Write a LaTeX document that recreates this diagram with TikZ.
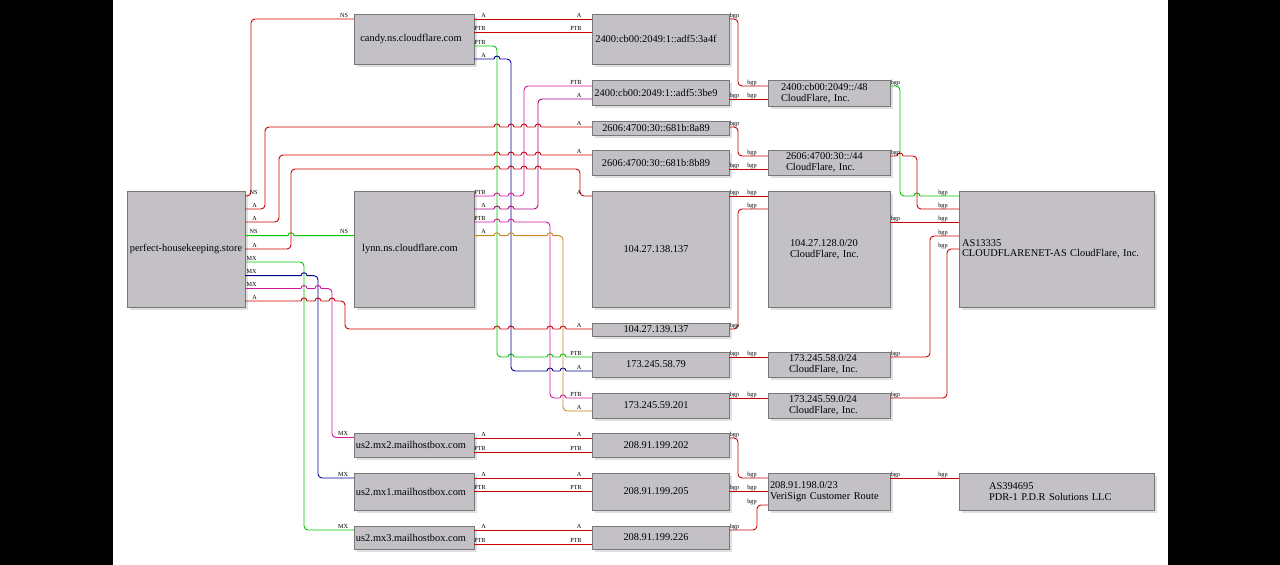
\documentclass[tikz,border=0pt]{standalone}
\usepackage{fontspec}
\setmainfont{Liberation Serif}
\usetikzlibrary{shadows}
\definecolor{boxgray}{RGB}{195,193,197}
\definecolor{bordergray}{RGB}{120,120,120}
\definecolor{shadowgray}{RGB}{224,224,224}
\definecolor{ered}{RGB}{204,0,0}
\definecolor{egreen}{RGB}{0,200,0}
\definecolor{enavy}{RGB}{0,0,140}
\definecolor{emagA}{RGB}{212,22,158}
\definecolor{emagB}{RGB}{168,0,127}
\definecolor{eorange}{RGB}{200,138,32}
\newcommand\hopx[2]{-- (#1-3,#2) (#1-3,#2) arc[start angle=180,end angle=0,radius=3bp] (#1+3,#2)}
\tikzset{
  box/.style={draw=bordergray, fill=boxgray, line width=0.8bp, inner sep=0pt, outer sep=0pt,
    font=\fontsize{10.4bp}{10.7bp}\selectfont,
    drop shadow={shadow xshift=3bp, shadow yshift=-3bp, fill=shadowgray, opacity=1}},
  tk/.style={execute at end node={\kern#1}},
  ipbox/.style={box, minimum width=137bp, tk=9bp},
  nmbox/.style={box, minimum width=120bp},
  pfx/.style args={#1/#2}{box, inner xsep=#2, text width=#1-2*#2, align=left},
  e/.style={draw=#1, line width=0.9bp, rounded corners=4bp},
  lab/.style={font=\fontsize{6.2bp}{7bp}\selectfont, inner sep=0pt, anchor=base, text=black, yshift=1.8bp},
  tA/.style={lab, xshift=9.5bp}, tPTR/.style={lab, xshift=6bp}, tNS/.style={lab, xshift=8.5bp},
  tMX/.style={lab, xshift=6.5bp}, tbgp/.style={lab, xshift=5.5bp},
  hA/.style={lab, xshift=-13bp}, hPTR/.style={lab, xshift=-16bp}, hNS/.style={lab, xshift=-10bp},
  hMX/.style={lab, xshift=-11bp}, hbgp/.style={lab, xshift=-16bp}
}
\begin{document}
\begin{tikzpicture}[x=1bp, y=-1bp]
\useasboundingbox (0,0) rectangle (1280,565);
\fill[black] (0,0) rectangle (1280,565);
\fill[white] (113,0) rectangle (1168,565);

% name nodes
\node[box, minimum width=118bp, minimum height=116bp] (P) at (186,249) {perfect-housekeeping.store};
\node[nmbox, minimum height=50bp, tk=6bp] (C) at (414,39) {candy.ns.cloudflare.com};
\node[nmbox, minimum height=116bp, tk=8bp] (L) at (414,249) {lynn.ns.cloudflare.com};
\node[nmbox, minimum height=24bp, tk=6bp] (M2) at (414,445) {us2.mx2.mailhostbox.com};
\node[nmbox, minimum height=37bp, tk=6bp] (M1) at (414,491.5) {us2.mx1.mailhostbox.com};
\node[nmbox, minimum height=23bp, tk=6bp] (M3) at (414,537.5) {us2.mx3.mailhostbox.com};

% address nodes
\node[ipbox, minimum height=50bp] (I1) at (660.5,39) {2400:cb00:2049:1::adf5:3a4f};
\node[ipbox, minimum height=25bp] (I2) at (660.5,92.5) {2400:cb00:2049:1::adf5:3be9};
\node[ipbox, minimum height=14bp] (I3) at (660.5,128) {2606:4700:30::681b:8a89};
\node[ipbox, minimum height=25bp] (I4) at (660.5,162.5) {2606:4700:30::681b:8b89};
\node[ipbox, minimum height=116bp] (I5) at (660.5,249) {104.27.138.137};
\node[ipbox, minimum height=13bp] (I6) at (660.5,329.5) {104.27.139.137};
\node[ipbox, minimum height=25bp] (I7) at (660.5,364.5) {173.245.58.79};
\node[ipbox, minimum height=25bp] (I8) at (660.5,405.5) {173.245.59.201};
\node[ipbox, minimum height=24bp] (I9) at (660.5,445) {208.91.199.202};
\node[ipbox, minimum height=37bp] (I10) at (660.5,491.5) {208.91.199.205};
\node[ipbox, minimum height=23bp] (I11) at (660.5,537.5) {208.91.199.226};

% prefix nodes
\node[pfx=122bp/13bp, minimum height=26bp] (N48) at (829,93) {2400:cb00:2049::/48\\CloudFlare, Inc.};
\node[pfx=122bp/18bp, minimum height=25bp] (N44) at (829,162.5) {2606:4700:30::/44\\CloudFlare, Inc.};
\node[pfx=122bp/22bp, minimum height=116bp] (N20) at (829,249) {104.27.128.0/20\\CloudFlare, Inc.};
\node[pfx=122bp/21bp, minimum height=25bp] (N58) at (829,364.5) {173.245.58.0/24\\CloudFlare, Inc.};
\node[pfx=122bp/21bp, minimum height=25bp] (N59) at (829,405.5) {173.245.59.0/24\\CloudFlare, Inc.};
\node[pfx=122bp/2bp, minimum height=37bp] (N23) at (829,491.5) {208.91.198.0/23\\VeriSign Customer Route};

% AS nodes
\node[pfx=195bp/3bp, minimum height=116bp] (A1) at (1056.5,249) {AS13335\\CLOUDFLARENET-AS CloudFlare, Inc.};
\node[pfx=195bp/30bp, minimum height=37bp] (A2) at (1056.5,491.5) {AS394695\\PDR-1 P.D.R Solutions LLC};

% edges from perfect-housekeeping.store
\draw[e=ered] (P.east|-0,196) node[tNS]{NS} -- (251,196) -- (251,19) -- (C.west|-0,19) node[hNS]{NS};
\draw[e=ered] (P.east|-0,209) node[tA]{A} -- (265,209) -- (265,127) \hopx{497}{127}\hopx{511}{127}\hopx{524}{127}\hopx{538}{127} -- (I3.west|-0,127) node[hA]{A};
\draw[e=ered] (P.east|-0,222) node[tA]{A} -- (279,222) -- (279,155) \hopx{497}{155}\hopx{511}{155}\hopx{524}{155}\hopx{538}{155} -- (I4.west|-0,155) node[hA]{A};
\draw[e=egreen] (P.east|-0,235.7) node[tNS]{NS} \hopx{291}{235.7} -- (L.west|-0,235.7) node[hNS]{NS};
\draw[e=ered] (P.east|-0,249) node[tA]{A} -- (291,249) -- (291,169) \hopx{497}{169}\hopx{511}{169}\hopx{524}{169}\hopx{538}{169} -- (580,169) -- (580,196) -- (I5.west|-0,196) node[hA]{A};
\draw[e=egreen] (P.east|-0,262) node[tMX]{MX} -- (304,262) -- (304,530) -- (M3.west|-0,530) node[hMX]{MX};
\draw[e=enavy] (P.east|-0,275.7) node[tMX]{MX} \hopx{304}{275.7} -- (318,275.7) -- (318,478) -- (M1.west|-0,478) node[hMX]{MX};
\draw[e=emagA] (P.east|-0,288.5) node[tMX]{MX} \hopx{304}{288.5}\hopx{318}{288.5} -- (332,288.5) -- (332,437.5) -- (M2.west|-0,437.5) node[hMX]{MX};
\draw[e=ered] (P.east|-0,301) node[tA]{A} \hopx{304}{301}\hopx{318}{301}\hopx{332}{301} -- (345,301) -- (345,329) \hopx{497}{329}\hopx{511}{329}\hopx{550}{329}\hopx{563}{329} -- (I6.west|-0,329) node[hA]{A};

% edges from candy.ns.cloudflare.com
\draw[e=ered] (C.east|-0,19) node[tA]{A} -- (I1.west|-0,19) node[hA]{A};
\draw[e=ered] (C.east|-0,32.5) node[tPTR]{PTR} -- (I1.west|-0,32.5) node[hPTR]{PTR};
\draw[e=egreen] (C.east|-0,46) node[tPTR]{PTR} -- (497,46) -- (497,357) \hopx{511}{357}\hopx{550}{357}\hopx{563}{357} -- (I7.west|-0,357) node[hPTR]{PTR};
\draw[e=enavy] (C.east|-0,59) node[tA]{A} \hopx{497}{59} -- (511,59) -- (511,371) \hopx{550}{371}\hopx{563}{371} -- (I7.west|-0,371) node[hA]{A};

% edges from lynn.ns.cloudflare.com
\draw[e=emagA] (L.east|-0,196) node[tPTR]{PTR} \hopx{497}{196}\hopx{511}{196} -- (524,196) -- (524,86) -- (I2.west|-0,86) node[hPTR]{PTR};
\draw[e=emagB] (L.east|-0,209) node[tA]{A} \hopx{497}{209}\hopx{511}{209} -- (538,209) -- (538,99) -- (I2.west|-0,99) node[hA]{A};
\draw[e=emagA] (L.east|-0,222) node[tPTR]{PTR} \hopx{497}{222}\hopx{511}{222} -- (550,222) -- (550,398) \hopx{563}{398} -- (I8.west|-0,398) node[hPTR]{PTR};
\draw[e=eorange] (L.east|-0,235.7) node[tA]{A} \hopx{497}{235.7}\hopx{511}{235.7}\hopx{550}{235.7} -- (563,235.7) -- (563,411) -- (I8.west|-0,411) node[hA]{A};

% mail hosts
\draw[e=ered] (M2.east|-0,438) node[tA]{A} -- (I9.west|-0,438) node[hA]{A};
\draw[e=ered] (M2.east|-0,452) node[tPTR]{PTR} -- (I9.west|-0,452) node[hPTR]{PTR};
\draw[e=ered] (M1.east|-0,478) node[tA]{A} -- (I10.west|-0,478) node[hA]{A};
\draw[e=ered] (M1.east|-0,491.5) node[tPTR]{PTR} -- (I10.west|-0,491.5) node[hPTR]{PTR};
\draw[e=ered] (M3.east|-0,530) node[tA]{A} -- (I11.west|-0,530) node[hA]{A};
\draw[e=ered] (M3.east|-0,544) node[tPTR]{PTR} -- (I11.west|-0,544) node[hPTR]{PTR};

% bgp: address -> prefix
\draw[e=ered] (I1.east|-0,19) node[tbgp]{bgp} -- (738,19) -- (738,86) -- (N48.west|-0,86) node[hbgp]{bgp};
\draw[e=ered] (I2.east|-0,99) node[tbgp]{bgp} -- (N48.west|-0,99) node[hbgp]{bgp};
\draw[e=ered] (I3.east|-0,127) node[tbgp]{bgp} -- (738,127) -- (738,156) -- (N44.west|-0,156) node[hbgp]{bgp};
\draw[e=ered] (I4.east|-0,169) node[tbgp]{bgp} -- (N44.west|-0,169) node[hbgp]{bgp};
\draw[e=ered] (I5.east|-0,196) node[tbgp]{bgp} -- (N20.west|-0,196) node[hbgp]{bgp};
\draw[e=ered] (I6.east|-0,329) node[tbgp]{bgp} -- (738,329) -- (738,209) -- (N20.west|-0,209) node[hbgp]{bgp};
\draw[e=ered] (I7.east|-0,357) node[tbgp]{bgp} -- (N58.west|-0,357) node[hbgp]{bgp};
\draw[e=ered] (I8.east|-0,398) node[tbgp]{bgp} -- (N59.west|-0,398) node[hbgp]{bgp};
\draw[e=ered] (I9.east|-0,438) node[tbgp]{bgp} -- (738,438) -- (738,478) -- (N23.west|-0,478) node[hbgp]{bgp};
\draw[e=ered] (I10.east|-0,491.5) node[tbgp]{bgp} -- (N23.west|-0,491.5) node[hbgp]{bgp};
\draw[e=ered] (I11.east|-0,530) node[tbgp]{bgp} -- (757,530) -- (757,505) -- (N23.west|-0,505) node[hbgp]{bgp};

% bgp: prefix -> AS
\draw[e=egreen] (N48.east|-0,86) node[tbgp]{bgp} -- (900,86) -- (900,196) \hopx{917}{196} -- (A1.west|-0,196) node[hbgp]{bgp};
\draw[e=ered] (N44.east|-0,156) node[tbgp]{bgp} \hopx{900}{156} -- (917,156) -- (917,209) -- (A1.west|-0,209) node[hbgp]{bgp};
\draw[e=ered] (N20.east|-0,222) node[tbgp]{bgp} -- (A1.west|-0,222) node[hbgp]{bgp};
\draw[e=ered] (N58.east|-0,357) node[tbgp]{bgp} -- (930,357) -- (930,236) -- (A1.west|-0,236) node[hbgp]{bgp};
\draw[e=ered] (N59.east|-0,398) node[tbgp]{bgp} -- (947,398) -- (947,249) -- (A1.west|-0,249) node[hbgp]{bgp};
\draw[e=ered] (N23.east|-0,478) node[tbgp]{bgp} -- (A2.west|-0,478) node[hbgp]{bgp};
\end{tikzpicture}
\end{document}
